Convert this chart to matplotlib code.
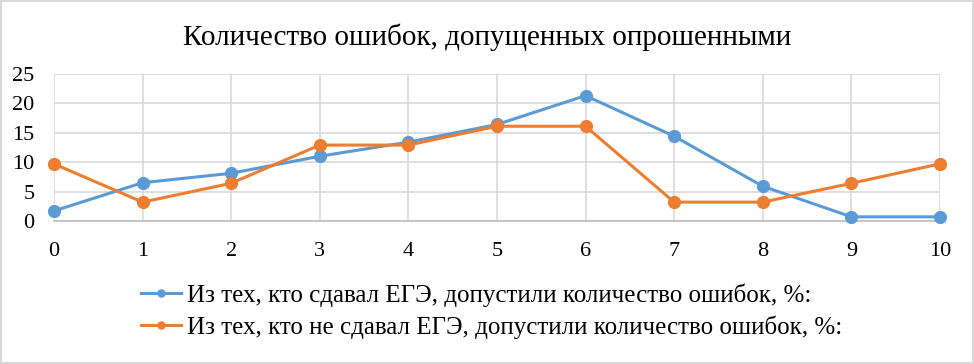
import matplotlib.pyplot as plt

plt.rcParams['font.family'] = ['Liberation Serif', 'DejaVu Serif']

oshibki = [0, 1, 2, 3, 4, 5, 6, 7, 8, 9, 10]
sdaval = [1.7, 6.5, 8.1, 11.0, 13.4, 16.4, 21.3, 14.4, 5.9, 0.7, 0.7]
ne_sdaval = [9.7, 3.2, 6.4, 12.9, 12.9, 16.1, 16.1, 3.2, 3.2, 6.4, 9.7]

nazv1 = 'Из тех, кто сдавал ЕГЭ, допустили количество ошибок, %:'
nazv2 = 'Из тех, кто не сдавал ЕГЭ, допустили количество ошибок, %:'

fig = plt.figure(figsize=(9.74, 3.64), dpi=100, edgecolor='#d9d9d9', linewidth=1.5)
ax = fig.add_axes([0.0554, 0.393, 0.9096, 0.404])

ax.plot(oshibki, sdaval, color='#5b9bd5', lw=2.2, marker='o', ms=8.5, label=nazv1, clip_on=False, zorder=3)
ax.plot(oshibki, ne_sdaval, color='#ed7d31', lw=2.2, marker='o', ms=8.5, label=nazv2, clip_on=False, zorder=3)

ax.set_xlim(0, 10)
ax.set_ylim(0, 25)
ax.set_xticks(oshibki)
ax.set_yticks([0, 5, 10, 15, 20, 25])
ax.grid(True, color='#d9d9d9', lw=1.2)
ax.set_axisbelow(True)
for s in ['top', 'right', 'left']:
    ax.spines[s].set_visible(False)
ax.spines['bottom'].set_color('#bfbfbf')
ax.spines['bottom'].set_linewidth(1.2)
ax.tick_params(length=0, labelsize=16, pad=15)
ax.tick_params(axis='y', pad=14)

fig.suptitle('Количество ошибок, допущенных опрошенными', fontsize=21, y=0.935)

leg = fig.legend(loc='upper center', bbox_to_anchor=(0.505, 0.283), ncol=1, frameon=False,
                 fontsize=18, handlelength=1.6, handletextpad=0.25, labelspacing=0.35,
                 markerscale=0.6)

fig.savefig('out.png', dpi=100)
